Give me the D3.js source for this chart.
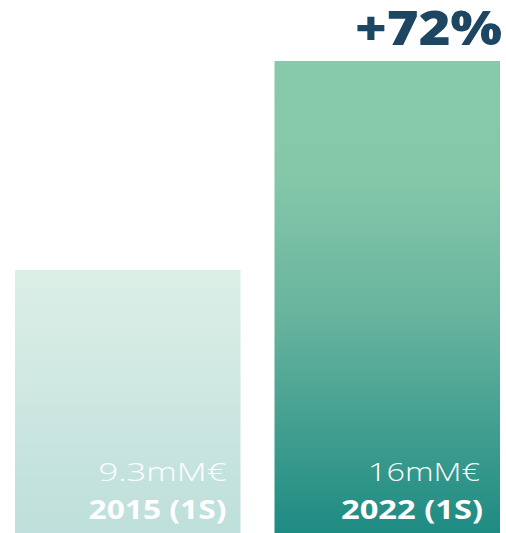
<!DOCTYPE html>
<html>
<head>
<meta charset="utf-8">
<script src="https://cdn.jsdelivr.net/npm/d3@7"></script>
<style>
  html, body { margin: 0; padding: 0; background: #ffffff; }
  svg { display: block; }
</style>
</head>
<body>
<div id="chart"></div>
<script>
const categories = ["2015 (1S)", "2022 (1S)"];
const values = [9.3, 16];
const valueLabels = ["9.3mM€", "16mM€"];
const growthLabel = "+72%";

const W = 506, H = 533;
const svg = d3.select("#chart").append("svg")
  .attr("width", W).attr("height", H);

const x = d3.scaleBand().domain(categories).range([15, 500])
  .paddingInner(0.131).paddingOuter(0);
const y = d3.scaleLinear().domain([0, 16]).range([560, 61]);

// styling (not data)
const style = {
  valuePad: [14, 20], valueWidth: [128, 112],
  catPad: [14, 17], catWidth: [138, 142],
  growthWidth: 147
};

const gradStops = [
  [["0", "#dcefe7"], ["1", "#bedfdb"]],
  [["0", "#87c9ab"], ["0.25", "#84c7a9"], ["0.55", "#66b39d"], ["1", "#1e8b83"]]
];

const defs = svg.append("defs");
categories.forEach((c, i) => {
  const g = defs.append("linearGradient")
    .attr("id", "grad" + i)
    .attr("gradientUnits", "userSpaceOnUse")
    .attr("x1", 0).attr("x2", 0)
    .attr("y1", y(values[i])).attr("y2", H);
  gradStops[i].forEach(s => g.append("stop").attr("offset", s[0]).attr("stop-color", s[1]));
});

svg.selectAll("rect.bar").data(categories).join("rect")
  .attr("class", "bar")
  .attr("x", d => x(d))
  .attr("width", x.bandwidth())
  .attr("y", (d, i) => y(values[i]))
  .attr("height", (d, i) => y(0) - y(values[i]))
  .attr("fill", (d, i) => `url(#grad${i})`);

const font = "'Open Sans', 'Noto Sans', sans-serif";

svg.selectAll("text.val").data(categories).join("text")
  .attr("class", "val")
  .attr("x", (d, i) => x(d) + x.bandwidth() - style.valuePad[i])
  .attr("y", 481)
  .attr("text-anchor", "end")
  .attr("font-family", font)
  .attr("font-weight", 300)
  .attr("font-size", 25)
  .attr("fill", "#ffffff")
  .attr("textLength", (d, i) => style.valueWidth[i])
  .attr("lengthAdjust", "spacingAndGlyphs")
  .text((d, i) => valueLabels[i]);

svg.selectAll("text.cat").data(categories).join("text")
  .attr("class", "cat")
  .attr("x", (d, i) => x(d) + x.bandwidth() - style.catPad[i])
  .attr("y", 519)
  .attr("text-anchor", "end")
  .attr("font-family", font)
  .attr("font-weight", 700)
  .attr("font-size", 27)
  .attr("fill", "#ffffff")
  .attr("textLength", (d, i) => style.catWidth[i])
  .attr("lengthAdjust", "spacingAndGlyphs")
  .text(d => d);

svg.append("text")
  .attr("x", x(categories[1]) + x.bandwidth() + 2)
  .attr("y", 45)
  .attr("text-anchor", "end")
  .attr("font-family", font)
  .attr("font-weight", 800)
  .attr("font-size", 48)
  .attr("fill", "#1c4662")
  .attr("textLength", style.growthWidth)
  .attr("lengthAdjust", "spacingAndGlyphs")
  .text(growthLabel);
</script>
</body>
</html>
